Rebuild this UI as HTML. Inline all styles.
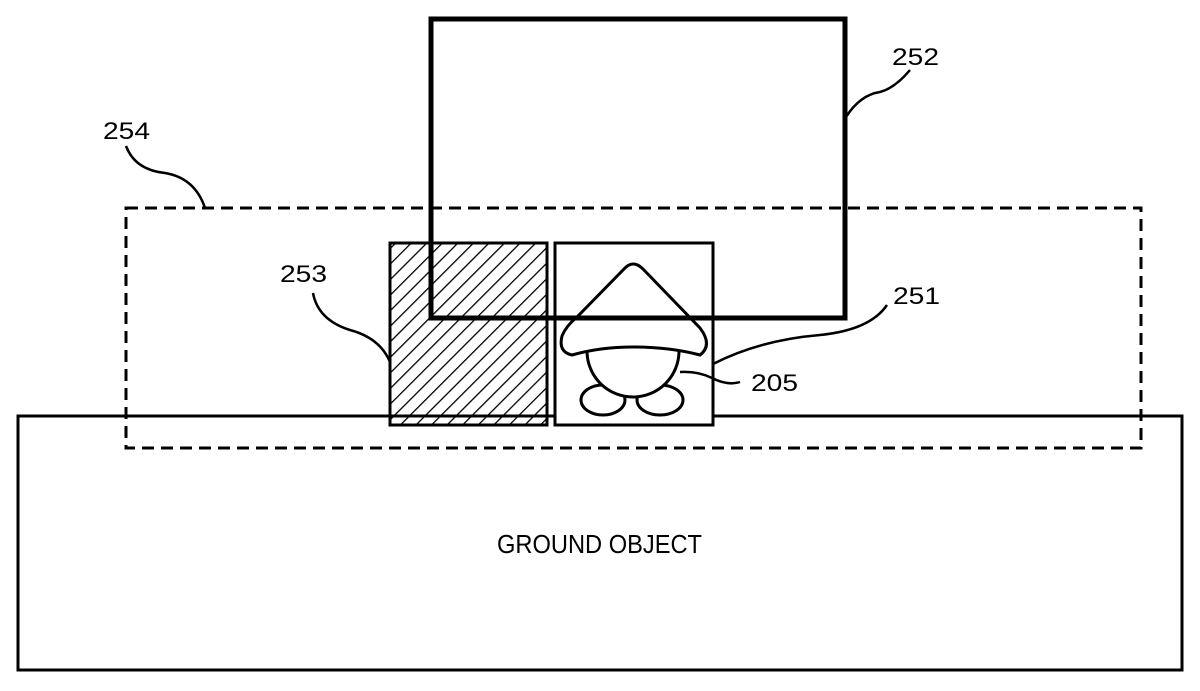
<!DOCTYPE html>
<html><head><meta charset="utf-8"><style>
html,body{margin:0;padding:0;background:#fff;}
svg{display:block;}
text{font-family:"Liberation Sans",sans-serif;font-size:24px;fill:#000;}
</style></head><body>
<svg width="1200" height="691" viewBox="0 0 1200 691" xmlns="http://www.w3.org/2000/svg">
<defs>
<pattern id="h" patternUnits="userSpaceOnUse" width="11" height="11" patternTransform="rotate(45)">
<line x1="0" y1="0" x2="0" y2="11" stroke="#000" stroke-width="2.6"/>
</pattern>
</defs>
<rect x="18" y="416" width="1164" height="254" fill="none" stroke="#000" stroke-width="3"/>
<text x="497" y="553" textLength="205" lengthAdjust="spacingAndGlyphs" style="font-size:26px">GROUND OBJECT</text>
<rect x="126" y="208" width="1015" height="240" fill="none" stroke="#000" stroke-width="3" stroke-dasharray="12 7"/>
<rect x="390" y="243" width="157" height="182" fill="url(#h)" stroke="none"/>
<rect x="390" y="243" width="157" height="182" fill="none" stroke="#000" stroke-width="3"/>
<rect x="555" y="243" width="158" height="182" fill="#fff" stroke="#000" stroke-width="3"/>
<g fill="#fff" stroke="#000" stroke-width="3">
<ellipse cx="603" cy="400" rx="22" ry="15"/>
<ellipse cx="660" cy="400" rx="23" ry="15"/>
<circle cx="633" cy="351" r="46"/>
<path d="M624 269 Q633 259 643 269 L700 328 Q713 345 700 355 Q670 347 633 347 Q600 347 572 355 Q558 352 562 336 Q566 326 577 317 Z"/>
</g>
<rect x="431" y="19" width="414" height="299" fill="none" stroke="#000" stroke-width="5"/>
<g fill="none" stroke="#000" stroke-width="2.5">
<path d="M126 146 Q135 170 165 173 Q195 178 205 208"/>
<path d="M846 117 Q860 95 880 92 Q895 88 910 70"/>
<path d="M313 293 Q318 320 350 330 Q380 338 390 362"/>
<path d="M713 364 Q760 340 820 335 Q870 330 887 305"/>
<path d="M680 372 Q698 371 712 378 Q728 386 740 382"/>
</g>
<text x="103" y="139" textLength="47" lengthAdjust="spacingAndGlyphs">254</text>
<text x="892" y="65" textLength="47" lengthAdjust="spacingAndGlyphs">252</text>
<text x="280" y="282" textLength="47" lengthAdjust="spacingAndGlyphs">253</text>
<text x="893" y="304" textLength="47" lengthAdjust="spacingAndGlyphs">251</text>
<text x="751" y="391" textLength="47" lengthAdjust="spacingAndGlyphs">205</text>
</svg>
</body></html>
